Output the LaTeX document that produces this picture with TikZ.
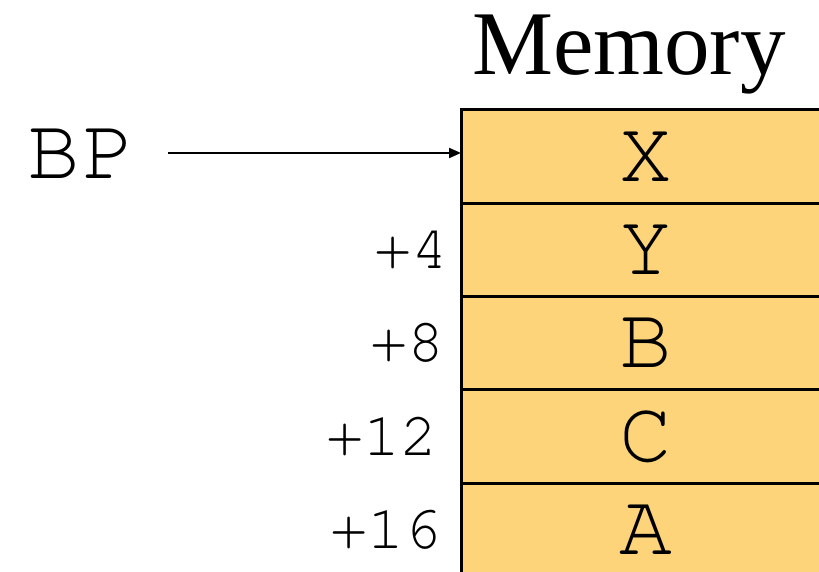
\documentclass[tikz,border=0pt]{standalone}
\usepackage{fontspec}
\setmainfont{Liberation Serif}
\newfontfamily\monofont{TeX Gyre Cursor}
\usetikzlibrary{%
        arrows.meta,
        positioning
    }
\definecolor{cellfill}{RGB}{253, 212, 122}
\tikzset{%
    cell/.style={%
        draw, line width=3pt, fill=cellfill, outer sep=0pt, inner sep=0pt,
        minimum width=370pt, minimum height=93.25pt,
        font=\monofont\fontsize{88}{88}\selectfont
    },
    offset/.style={%
        inner sep=0pt, font=\monofont\fontsize{62}{62}\selectfont
    },
    pointer/.style={%
        -{Triangle[length=12pt, width=10pt]}, line width=2pt
    }
}

\begin{document}
\begin{tikzpicture}[x=1pt, y=-1pt]
    \useasboundingbox (0, 0) rectangle (819, 572);
    \clip (0, 0) rectangle (819, 572);

    % Heading
    \node[anchor=base, inner sep=0pt, font=\fontsize{91}{91}\selectfont]
        (memory) at (629, 75) {Memory};

    % Memory cells
    \node[cell, anchor=north west] (x) at (461, 110) {X};
    \node[cell, below=0pt of x] (y) {Y};
    \node[cell, below=0pt of y] (b) {B};
    \node[cell, below=0pt of b] (c) {C};
    \node[cell, below=0pt of c] (a) {A};

    % Offsets from BP
    \node[offset, left=12pt of y] (off4) {+4};
    \node[offset, left=16pt of b] (off8) {+8};
    \node[offset, left=23pt of c] (off12) {+12};
    \node[offset, left=19pt of a] (off16) {+16};

    % Base pointer
    \node[anchor=west, inner sep=0pt,
          font=\monofont\fontsize{88}{88}\selectfont\addfontfeature{LetterSpace=3}]
        (bp) at (27, 154) {BP};
    \coordinate (bptail) at (168, 153);
    \draw[pointer] (bptail) -- (bptail -| x.west);

\end{tikzpicture}
\end{document}
